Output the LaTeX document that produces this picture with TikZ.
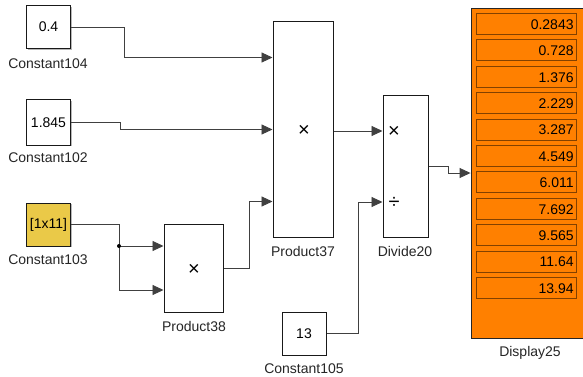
\documentclass[tikz,border=0pt]{standalone}
\usepackage{fontspec}
\setmainfont{Liberation Sans}
\usetikzlibrary{arrows.meta,shadows,calc}
\definecolor{dispor}{RGB}{255,128,0}
\definecolor{rowbd}{RGB}{130,65,0}
\definecolor{cyel}{RGB}{234,201,72}
\begin{document}
\begin{tikzpicture}[x=1pt,y=-1pt,
  font=\fontsize{14}{16}\selectfont,
  blk/.style={draw=black!90, line width=1pt, fill=white, inner sep=0pt,
    drop shadow={shadow xshift=1.2pt, shadow yshift=-1.2pt, fill=black!35, opacity=0.8}},
  wire/.style={draw=black!75, line width=0.9pt},
  arr/.style={wire, -{Triangle[length=11pt,width=10pt]}},
  lbl/.style={inner sep=0pt, text=black!85},
  sym/.style={inner sep=0pt, text=black, font=\fontsize{20}{20}\selectfont},
  row/.style={draw=rowbd, line width=0.8pt, fill=dispor, minimum width=100pt,
    minimum height=21pt, inner sep=0pt, anchor=north west},
  num/.style={inner sep=0pt, anchor=east}
]
\clip (0,0) rectangle (583,377);
\fill[white] (0,0) rectangle (583,377);

% blocks
\node[blk, minimum width=44pt, minimum height=43pt] (c104) at (48.5,27) {0.4};
\node[blk, minimum width=44pt, minimum height=45pt] (c102) at (48.5,122.5) {1.845};
\node[blk, fill=cyel, minimum width=44pt, minimum height=43pt] (c103) at (48.5,224.5) {[1x11]};
\node[blk, minimum width=59pt, minimum height=88pt] (p38) at (193.5,268) {};
\node[blk, minimum width=60pt, minimum height=215pt] (p37) at (303,129.5) {};
\node[blk, minimum width=45pt, minimum height=141pt] (d20) at (405.5,166.5) {};
\node[blk, minimum width=44pt, minimum height=43pt] (c105) at (304,333.5) {13};
\node[draw=black!85, line width=0.9pt, fill=dispor, minimum width=130pt, minimum height=330pt,
  inner sep=0pt, drop shadow={shadow xshift=1.2pt, shadow yshift=-1.2pt, fill=black!35, opacity=0.8}]
  (disp) at (536,173) {};

% block symbols
\node[sym] (x38) at (194,270) {×};
\node[sym] (x37) at (304,131) {×};
\node[sym] (xd) at (394,132) {×};
\node[sym] (dd) at (394,203) {÷};

% labels
\node[lbl] (l104) at (48,64) {Constant104};
\node[lbl] (l102) at (48,158) {Constant102};
\node[lbl] (l103) at (48,260) {Constant103};
\node[lbl] (l38) at (194,326) {Product38};
\node[lbl] (l37) at (303,251) {Product37};
\node[lbl] (ld) at (405,251) {Divide20};
\node[lbl] (l105) at (304,369) {Constant105};
\node[lbl] (ldisp) at (530,353) {Display25};

% display rows
\foreach \v [count=\i from 0] in {0.2843,0.728,1.376,2.229,3.287,4.549,6.011,7.692,9.565,11.64,13.94}{
  \node[row] (r\i) at (476,{13+26.4*\i}) {};
  \node[num] (n\i) at ($(r\i.east)+(-3,0.5)$) {\v};
}

% ports
\coordinate (p37i1) at (p37.west |- 0,57.5);
\coordinate (p37i2) at (p37.west |- 0,129.5);
\coordinate (p37i3) at (p37.west |- 0,201.5);
\coordinate (p38i1) at (p38.west |- 0,246);
\coordinate (p38i2) at (p38.west |- 0,290);
\coordinate (d20i1) at (d20.west |- 0,131);
\coordinate (d20i2) at (d20.west |- 0,202);
\coordinate (j) at (119,246);

% wires
\draw[arr] (c104.east) -- ++(53,0) |- (p37i1);
\draw[arr] (c102.east) -- ++(49,0) |- (p37i2);
\draw[wire] (c103.east) -| (j);
\draw[arr] (j) -- (p38i1);
\draw[arr] (j) |- (p38i2);
\fill (j) circle (2pt);
\draw[arr] (p38.east) -- ++(26,0) |- (p37i3);
\draw[arr] (p37.east |- d20i1) -- (d20i1);
\draw[arr] (c105.east) -- ++(32,0) |- (d20i2);
\draw[arr] (d20.east) -- ++(20,0) |- (disp.west);
\end{tikzpicture}
\end{document}
